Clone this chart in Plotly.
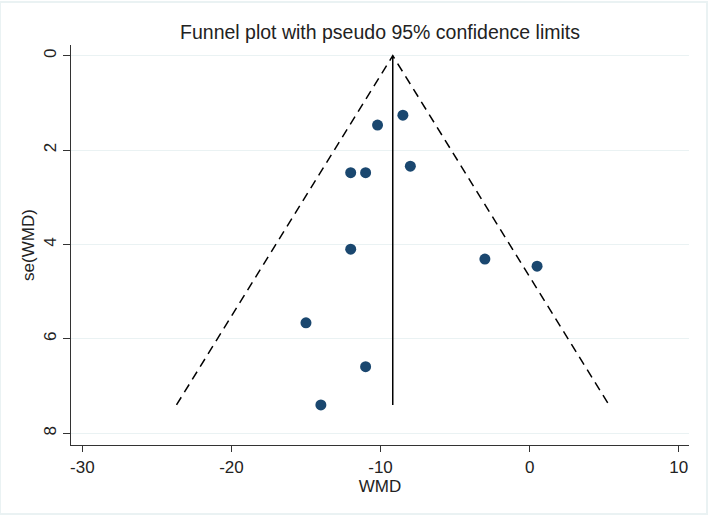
import plotly.graph_objects as go

# Study estimates (WMD) and their standard errors
wmd = [-8.5, -10.2, -8.0, -12.0, -11.0, -12.0, -3.0, 0.5, -15.0, -11.0, -14.0]
se_wmd = [1.26, 1.47, 2.34, 2.48, 2.48, 4.10, 4.31, 4.46, 5.66, 6.59, 7.40]

pooled = -9.18
se_max = 7.40
z = 1.96

x_ticks = [-30, -20, -10, 0, 10]
x_tick_labels = ["-30", "-20", "-10", "0", "10"]
y_ticks = [0, 2, 4, 6, 8]
y_tick_labels = ["0", "2", "4", "6", "8"]

title_text = "Funnel plot with pseudo 95% confidence limits"
x_title = "WMD"
y_title = "se(WMD)"

navy = "#1a476f"
font_family = "Liberation Sans, Arial, sans-serif"

fig = go.Figure()

# pseudo 95% confidence limits (dashed)
fig.add_trace(go.Scatter(
    x=[pooled - z * se_max, pooled, pooled + z * se_max],
    y=[se_max, 0, se_max],
    mode="lines",
    line=dict(color="black", width=1.5, dash="9px,6px"),
    hoverinfo="skip",
))

# pooled estimate line
fig.add_trace(go.Scatter(
    x=[pooled, pooled],
    y=[0, se_max],
    mode="lines",
    line=dict(color="black", width=1.5),
    hoverinfo="skip",
))

# studies
fig.add_trace(go.Scatter(
    x=wmd, y=se_wmd,
    mode="markers",
    marker=dict(color=navy, size=11, line=dict(width=0)),
))

fig.update_layout(
    width=709, height=516,
    margin=dict(l=71, r=20, t=45, b=71),
    paper_bgcolor="white",
    plot_bgcolor="white",
    showlegend=False,
    font=dict(family=font_family, color="#222222", size=17),
    title=dict(text=title_text, x=0.536, xanchor="center", y=1 - 32 / 516,
               yanchor="middle", font=dict(size=19.5, color="#222222")),
    xaxis=dict(
        range=[-30.76, 10.69],
        tickvals=x_ticks, ticktext=x_tick_labels,
        ticks="outside", ticklen=6, tickcolor="#333333", tickwidth=1,
        showline=True, linecolor="#333333", linewidth=1.3,
        showgrid=False, zeroline=False,
        tickfont=dict(size=17),
        title=dict(text=x_title, font=dict(size=17), standoff=2),
    ),
    yaxis=dict(
        range=[8.25, -0.227],
        tickvals=y_ticks, ticktext=y_tick_labels,
        tickangle=-90,
        ticks="outside", ticklen=7, tickcolor="#333333", tickwidth=1,
        showline=True, linecolor="#333333", linewidth=1.3,
        showgrid=True, gridcolor="#eaf2f3", gridwidth=1,
        zeroline=False,
        tickfont=dict(size=17),
        title=dict(text=y_title, font=dict(size=17), standoff=2),
    ),
    shapes=[dict(type="rect", xref="paper", yref="paper",
                 x0=-71 / 618.3, x1=1 + 18 / 618.3,
                 y0=-69 / 400, y1=1 + 43 / 400,
                 line=dict(color="#eaf2f3", width=2), layer="below")],
)

fig.write_html("out.html")
